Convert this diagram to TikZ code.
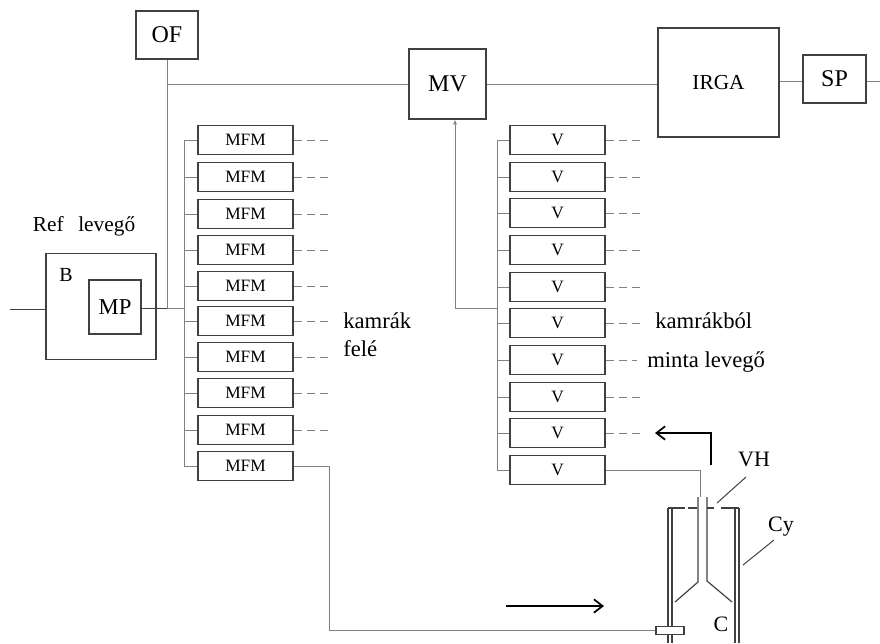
\documentclass[tikz,border=0pt]{standalone}
\usepackage{fontspec}
\setmainfont{Liberation Serif}
\usetikzlibrary{arrows.meta}
\usetikzlibrary{positioning}
\definecolor{boxline}{gray}{0.25}
\definecolor{pipeline}{gray}{0.5}
\tikzset{
  unit/.style={draw=boxline, line width=0.9pt, fill=white, inner sep=0pt, font=\fontsize{18}{20}\selectfont},
  rowbox/.style={draw=boxline, line width=0.9pt, fill=white, inner sep=0pt, minimum width=71.25pt, minimum height=21.75pt, font=\fontsize{13}{15}\selectfont},
  pipe/.style={draw=pipeline, line width=0.75pt},
  darkpipe/.style={draw=boxline, line width=0.75pt},
  tail/.style={draw=pipeline, line width=0.75pt, dash pattern=on 6pt off 4pt},
  wall/.style={draw=boxline, line width=0.9pt},
  bigarrow/.style={draw=black, line width=1.3pt, -{Straight Barb[length=6.5pt,width=10pt]}},
  lbl/.style={inner sep=0pt, font=\fontsize{17}{19}\selectfont},
  tag/.style={inner sep=0pt, font=\fontsize{16.5}{19}\selectfont}
}
\begin{document}
\begin{tikzpicture}[x=0.75pt,y=-0.75pt]
\useasboundingbox (0,0) rectangle (880,643);

% top row
\node[unit, minimum width=46.5pt, minimum height=36pt] (OF) at (167,35) {OF};
\node[unit, minimum width=57.75pt, minimum height=52.5pt] (MV) at (447.5,84) {MV};
\node[unit, minimum width=90.75pt, minimum height=81.75pt, font=\fontsize{16}{18}\selectfont] (IRGA) at (718.5,82.5) {IRGA};
\node[unit, minimum width=47.25pt, minimum height=36pt] (SP) at (834.5,79) {SP};
\coordinate (topjoin) at (167,84);
\coordinate (sprow) at (790,81);
\coordinate (spout) at (880,81);

% bath and pump
\node[draw=boxline, line width=0.9pt, minimum width=82.5pt, minimum height=79pt, inner sep=0pt] (B) at (101,306.5) {};
\node[unit, minimum width=39pt, minimum height=40.5pt, font=\fontsize{17}{19}\selectfont] (MP) at (115,307) {MP};
\node[tag, font=\fontsize{15}{17}\selectfont] (Blabel) at (66,275) {B};
\node[inner sep=0pt, font=\fontsize{16}{18}\selectfont] (reflabel) at (84,226) {Ref\hspace{11pt}levegő};
\coordinate (inlet) at (10,309);
\coordinate (ofjoin) at (167,308);
\coordinate (mjoin) at (184,308);

% rows
\foreach \i/\y in {1/140,2/177,3/214,4/250,5/286,6/321,7/357,8/393,9/430,10/466}{
  \node[rowbox] (m\i) at (245.5,\y) {MFM};
  \coordinate (mt\i) at (184,\y);
  \coordinate (md\i) at (329,\y);
  \draw[pipe] (mt\i) -- (m\i);
}
\foreach \i/\y/\e in {1/140/641,2/177/641,3/213/641,4/250/641,5/287/641,6/323/641,7/360/637,8/397/641,9/433/641,10/470/641}{
  \node[rowbox] (v\i) at (557.5,\y) {V};
  \coordinate (vt\i) at (497,\y);
  \coordinate (vd\i) at (\e,\y);
  \draw[pipe] (vt\i) -- (v\i);
}
\foreach \i in {1,...,9}{
  \draw[tail] (m\i.east) -- (md\i);
  \draw[tail] (v\i.east) -- (vd\i);
}

% pipes
\draw[pipe] (mt1) -- (mt10);
\draw[pipe] (vt1) -- (vt10);
\draw[darkpipe] (inlet) -- (B.west |- inlet);
\draw[darkpipe] (MP.east |- ofjoin) -- (ofjoin);
\draw[pipe] (ofjoin) -- (mjoin);
\draw[pipe] (OF) -- (ofjoin);
\draw[pipe] (topjoin) -- (MV);
\draw[pipe] (MV) -- (MV -| IRGA.west);
\draw[pipe] (IRGA.east |- sprow) -- (SP.west |- sprow);
\draw[pipe] (SP.east |- spout) -- (spout);
\coordinate (vjoin) at (497,308);
\coordinate (mvdrop) at (455,308);
\draw[pipe, -{Latex[length=3.5pt,width=3pt]}] (vjoin) -- (mvdrop) -- (mvdrop |- MV.south);

% labels
\node[lbl, anchor=west] (kam) at (343,321) {kamrák};
\node[lbl, anchor=west] (fele) at (343,349) {felé};
\node[lbl, anchor=west] (kamb) at (655,321) {kamrákból};
\node[lbl, anchor=west] (minta) at (647,362) {minta levegő};
\node[tag] (VH) at (754,459) {VH};
\node[tag] (Cy) at (781,527) {Cy};
\node[tag] (Clabel) at (721,624) {C};

% cylinder
\draw[wall] (668,508) -- (668,643);
\draw[wall] (672,508) -- (672,643);
\draw[wall] (735,508) -- (735,643);
\draw[wall] (739,508) -- (739,643);
\draw[wall] (668,508) -- (685,508);
\draw[wall] (688,508) -- (697,508);
\draw[wall] (707,508) -- (714,508);
\draw[wall] (721,508) -- (739,508);
\draw[wall] (698,497) -- (698,582) -- (675,602);
\draw[wall] (707,497) -- (707,581) -- (732,602);
\coordinate (vhfoot) at (717,503);
\coordinate (vhtop) at (746,477);
\coordinate (cyfoot) at (743,565);
\coordinate (cytop) at (774,540);
\draw[darkpipe] (vhfoot) -- (vhtop);
\draw[darkpipe] (cyfoot) -- (cytop);

% sample and inlet lines
\node[draw=boxline, line width=0.9pt, fill=white, minimum width=21pt, minimum height=5.5pt, inner sep=0pt] (collar) at (670,630.5) {};
\coordinate (a1) at (329,466);
\coordinate (a2) at (329,630.5);
\draw[pipe] (m10.east) -- (a1) -- (a2) -- (collar.west);
\coordinate (b1) at (700,470);
\coordinate (b2) at (700,497);
\draw[pipe] (v10.east) -- (b1) -- (b2);

% flow arrows
\coordinate (f1) at (711,465);
\coordinate (f2) at (711,433);
\coordinate (f3) at (655,433);
\draw[bigarrow] (f1) -- (f2) -- (f3);
\coordinate (g1) at (506,606);
\coordinate (g2) at (604,606);
\draw[bigarrow] (g1) -- (g2);
\end{tikzpicture}
\end{document}
